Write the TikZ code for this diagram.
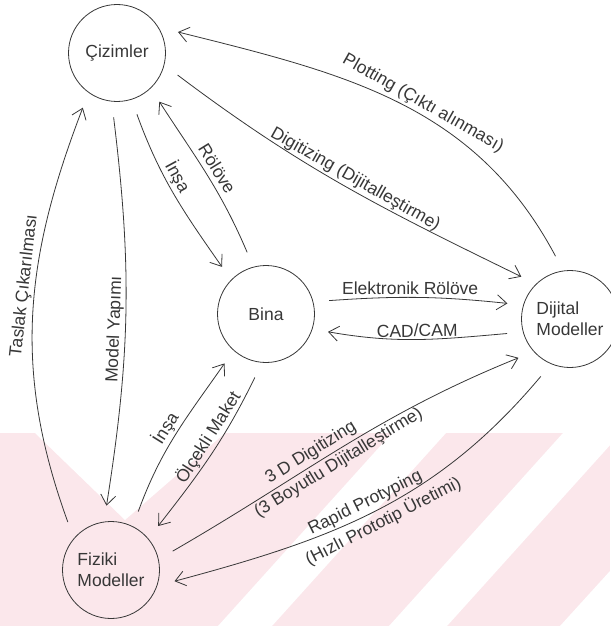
\documentclass[tikz,border=0pt]{standalone}
\usepackage{fontspec}
\setmainfont{Liberation Sans}
\usetikzlibrary{arrows.meta}

\definecolor{wmpink}{RGB}{251,231,235}
\definecolor{inkgray}{RGB}{55,55,55}

\begin{document}
\begin{tikzpicture}[x=1pt, y=1pt,
  every node/.style={font=\fontsize{17.5}{21}\selectfont, text=inkgray},
  box/.style={draw=inkgray, circle, minimum size=97pt, inner sep=0pt, outer sep=16pt, line width=0.8pt, align=left},
  arr/.style={draw=inkgray, line width=0.8pt, -{Straight Barb[length=10pt,width=15pt]}},
  lbl/.style={sloped, inner sep=2pt}]
\useasboundingbox (0,0) rectangle (610,-626);
% watermark in the lower part
\fill[wmpink] (0,-433) rectangle (610,-626);
\fill[white] (35,-433) -- (225,-433) -- (125,-520) -- cycle;
\fill[white] (218,-626) -- (272,-626) -- (446,-433) -- (392,-433) -- cycle;
\fill[white] (389,-626) -- (447,-626) -- (621,-433) -- (563,-433) -- cycle;
\fill[white] (560,-626) -- (620,-626) -- (620,-560) -- cycle;
% circles
\node[box] (ciz) at (117,-53) {Çizimler};
\node[box] (bina) at (266,-314) {Bina};
\node[box] (dig) at (570,-319) {Dijital\\Modeller};
\node[box] (fiz) at (111,-570) {Fiziki\\Modeller};
% Cizimler <-> Dijital
\draw[arr] (dig.103) to[out=118, in=-14] node[lbl, above, pos=0.45] {Plotting (Çıktı alınması)} (ciz.19);
\draw[arr] (ciz.-20) to[out=-37, in=154] node[lbl, above, pos=0.52] {Digitizing (Dijitalleştirme)} (dig.139);
% Cizimler <-> Bina
\draw[arr] (bina.107) to[out=113, in=-57] node[lbl, above, pos=0.5, inner sep=5pt] {Rölöve} (ciz.-49);
\draw[arr] (ciz.-72) to[out=-70, in=125] node[lbl, above, pos=0.42] {İnşa} (bina.133);
% Bina <-> Dijital
\draw[arr] (bina.12) to[out=4, in=174] node[lbl, above, pos=0.45] {Elektronik Rölöve} (dig.166);
\draw[arr] (dig.-167) to[out=185, in=-10] node[lbl, above, pos=0.5] {CAD/CAM} (bina.-16);
% Cizimler <-> Fiziki
\draw[arr] (fiz.132) to[out=110, in=-111] node[lbl, above, pos=0.57] {Taslak Çıkarılması} (ciz.-122);
\draw[arr] (ciz.-93) to[out=-83, in=81] node[lbl, above, pos=0.55] {Model Yapımı} (fiz.94);
% Bina <-> Fiziki
\draw[arr] (fiz.65) to[out=70, in=235] node[lbl, above, pos=0.5] {İnşa} (bina.-130);
\draw[arr] (bina.-100) to[out=244, in=52] node[lbl, above, pos=0.42] {Ölçekli Maket} (fiz.43);
% Fiziki <-> Dijital
\draw[arr] (fiz.17) to[out=30, in=202]
  node[lbl, above, pos=0.42, inner sep=3pt] {3 D Digitizing}
  node[lbl, below, pos=0.47, inner sep=3pt] {(3 Boyutlu Dijitalleştirme)} (dig.-143);
\draw[arr] (dig.-117) to[out=230, in=15]
  node[lbl, above, pos=0.52, inner sep=3pt] {Rapid Protyping}
  node[lbl, below, pos=0.5, inner sep=3pt] {(Hızlı Prototip Üretimi)} (fiz.-10);
\end{tikzpicture}
\end{document}
